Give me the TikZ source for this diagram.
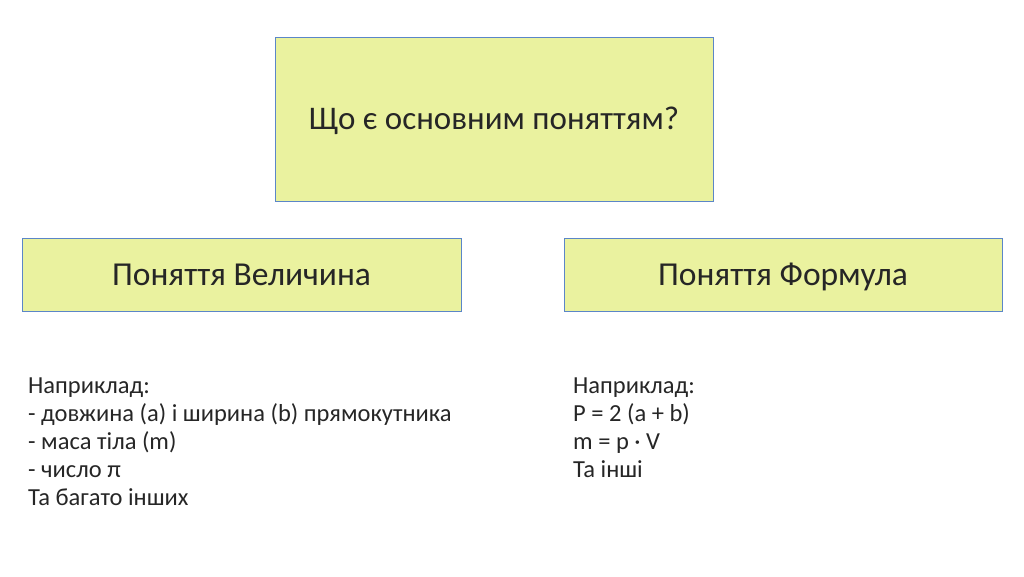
\documentclass[tikz,border=0pt]{standalone}
\usepackage{fontspec}
\setmainfont{Carlito}
\definecolor{boxfill}{HTML}{EAF29F}
\definecolor{boxline}{HTML}{5B86C8}
\definecolor{txt}{HTML}{262626}
\begin{document}
\begin{tikzpicture}[x=1pt,y=-1pt,
  box/.style={draw=boxline,line width=0.9pt,fill=boxfill,inner sep=0pt,text=txt,text depth=0pt},
  listtxt/.style={anchor=north west,align=left,inner sep=0pt,text=txt,font=\fontsize{24.5}{28}\selectfont}]
\useasboundingbox (0,0) rectangle (1024,576);
\node[box,minimum width=438pt,minimum height=164pt,text height=21pt,font=\fontsize{33}{38}\selectfont] (q) at (494,119) {Що є основним поняттям?};
\node[box,minimum width=439pt,minimum height=73pt,text height=22pt,font=\fontsize{33.5}{38}\selectfont] (v) at (241.5,274.5) {Поняття Величина};
\node[box,minimum width=438pt,minimum height=73pt,text height=22pt,font=\fontsize{33.5}{38}\selectfont] (f) at (783,274.5) {Поняття Формула};
\node[listtxt] (lv) at (28,377.5) {Наприклад:\\- довжина (a) і ширина (b) прямокутника\\- маса тіла (m)\\- число π\\Та багато інших};
\node[listtxt] (lf) at (573,377.5) {Наприклад:\\P = 2 (a + b)\\m = p · V\\Та інші};
\end{tikzpicture}
\end{document}
